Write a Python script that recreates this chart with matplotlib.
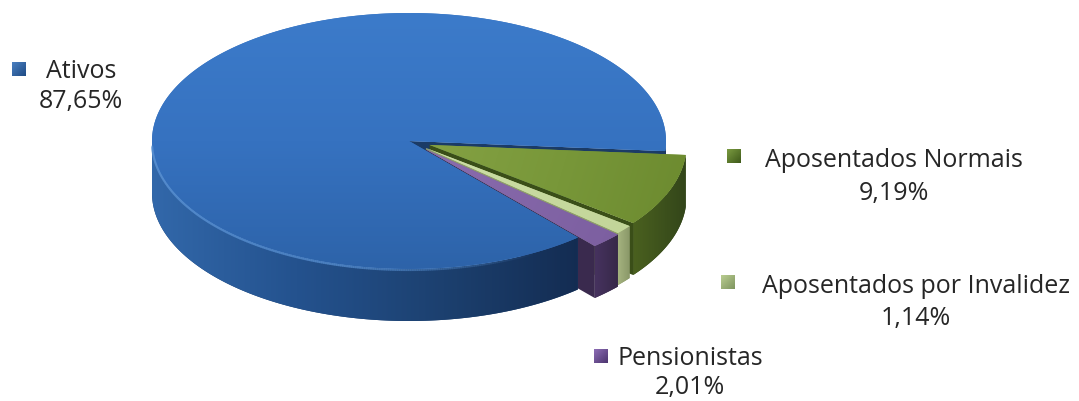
import numpy as np
import matplotlib
matplotlib.use("Agg")
import matplotlib.pyplot as plt
from matplotlib.patches import Polygon
from matplotlib.collections import LineCollection
from matplotlib.colors import LinearSegmentedColormap, to_rgba

# ---- data -------------------------------------------------------------
categories = ["Ativos", "Aposentados Normais", "Aposentados por Invalidez", "Pensionistas"]
shares = [87.65, 9.19, 1.14, 2.01]
value_labels = ["87,65%", "9,19%", "1,14%", "2,01%"]

# slice order going clockwise from the start angle
pie_order = [1, 2, 3, 0]
explode = [0, 22, 22, 24]

top_colors = [["#3c7bca", "#3672c0", "#2d63a9"],
              ["#84a143", "#789739", "#6c8a2f"],
              ["#cddfa6", "#c2d599"],
              ["#8a6cae", "#7c5fa0"]]
wall_colors = [["#3268aa", "#24528e", "#1c406f", "#132b50"],
               ["#4a601f", "#33461a"],
               ["#a4b27f", "#8a9868"],
               ["#46325e", "#362848"]]
edge_face_colors = ["#1b3b66", "#3a4e18", "#8e9c6c", "#3a2a4e"]
marker_colors = [["#4a7fc0", "#1f4c86"], ["#7a9a40", "#3f5a1a"],
                 ["#b9cc90", "#7f9660"], ["#8c6cb4", "#4d3670"]]

label_pos = [(81, 78, 108), (894, 167, 200), (916, 293, 325), (690, 365, 394)]
marker_pos = [(19, 70), (734, 157), (728, 283), (601, 357)]

# ---- pie geometry -----------------------------------------------------
cx, cy, rx, ry, depth = 409.0, 142.0, 257.0, 128.0, 52.0
start_deg = 4.5

fig = plt.figure(figsize=(10.79, 4.02), dpi=100)
ax = fig.add_axes([0, 0, 1, 1])
ax.axis("off")


def gradient_fill(xy, colors, p0, p1, zorder, edge=None):
    xy = np.asarray(xy, float)
    poly = Polygon(xy, closed=True, facecolor=colors[len(colors) // 2],
                   edgecolor=edge if edge else "none", lw=0.6, zorder=zorder)
    ax.add_patch(poly)
    clip = Polygon(xy, closed=True, facecolor="none", edgecolor="none")
    ax.add_patch(clip)
    xmin, ymin = xy.min(0) - 1
    xmax, ymax = xy.max(0) + 1
    nx, ny = int(xmax - xmin) + 2, int(ymax - ymin) + 2
    X, Y = np.meshgrid(np.linspace(xmin, xmax, nx), np.linspace(ymin, ymax, ny))
    d = np.array(p1, float) - np.array(p0, float)
    s = ((X - p0[0]) * d[0] + (Y - p0[1]) * d[1]) / (d @ d)
    cmap = LinearSegmentedColormap.from_list("g", colors)
    img = cmap(np.clip(s, 0, 1))
    im = ax.imshow(img, extent=(xmin, xmax, ymax, ymin), origin="upper",
                   aspect="auto", interpolation="bilinear", zorder=zorder + 0.01)
    im.set_clip_path(clip)


def rim(t, off, dz=0.0):
    t = np.atleast_1d(t)
    return np.column_stack([cx + off[0] + rx * np.cos(t),
                            cy + off[1] + ry * np.sin(t) + dz])


total = sum(shares)
walls = []
tops = []
cum = 0.0
for k in pie_order:
    t0 = np.radians(start_deg + cum / total * 360.0)
    cum += shares[k]
    t1 = np.radians(start_deg + cum / total * 360.0)
    m = 0.5 * (t0 + t1)
    off = (explode[k] * np.cos(m), explode[k] * np.sin(m) * ry / rx)
    vtx = np.array([cx + off[0], cy + off[1]])

    # curved outer wall, front half only
    for base in (0.0, 2 * np.pi):
        lo, hi = max(t0, base), min(t1, base + np.pi)
        if hi > lo:
            ts = np.linspace(lo, hi, 120)
            top = rim(ts, off)
            bot = rim(ts, off, depth)
            walls.append((top[:, 1].max(), np.vstack([top, bot[::-1]]), "outer", k))

    # radial cut faces that face the viewer
    for t, visible in ((t0, np.cos(t0) < 0), (t1, np.cos(t1) > 0)):
        if visible:
            r = rim(t, off)[0]
            xy = np.array([vtx, r, r + [0, depth], vtx + [0, depth]])
            walls.append((max(vtx[1], r[1]), xy, "radial", k))

    ts = np.linspace(t0, t1, 400)
    tops.append((k, np.vstack([vtx, rim(ts, off)])))

walls.sort(key=lambda w: w[0])
z = 2.0
for key, xy, kind, k in walls:
    if kind == "outer":
        if k == 0:
            gradient_fill(xy, wall_colors[k], (150, 0), (590, 0), z)
        else:
            gradient_fill(xy, wall_colors[k], (xy[:, 0].min(), 0), (xy[:, 0].max(), 0), z)
    else:
        ax.add_patch(Polygon(xy, closed=True, facecolor=edge_face_colors[k],
                             edgecolor="none", zorder=z))
    z += 0.1

for k, xy in tops:
    if k == 0:
        gradient_fill(xy, top_colors[k], (0, 14), (0, 272), 10)
    else:
        gradient_fill(xy, top_colors[k], (xy[:, 0].min(), xy[:, 1].min()),
                      (xy[:, 0].max(), xy[:, 1].max()), 10)

# soft highlight along the front rim of the large slice, fading out to the right
ts = np.linspace(np.radians(60), np.radians(178), 240)
hl = rim(ts, (0, 0), 1.0)
segs = np.stack([hl[:-1], hl[1:]], axis=1)
fade = np.clip((np.degrees(ts[:-1]) - 60) / 45.0, 0, 1) * 0.5
base_rgba = np.array(to_rgba("#5a92d4"))
seg_colors = np.tile(base_rgba, (len(segs), 1))
seg_colors[:, 3] = fade
ax.add_collection(LineCollection(segs, colors=seg_colors, linewidths=1.6, zorder=11,
                                 capstyle="round"))

# ---- labels -----------------------------------------------------------
txt_kw = dict(family="Open Sans", fontsize=18, color="#262626", ha="center",
              va="baseline", zorder=20)
msize = 14
for k in range(len(categories)):
    x, y1, y2 = label_pos[k]
    ax.text(x, y1, categories[k], **txt_kw)
    ax.text(x, y2, value_labels[k], **txt_kw)
    mx, my = marker_pos[k]
    sq = np.array([[mx - msize / 2, my - msize / 2], [mx + msize / 2, my - msize / 2],
                   [mx + msize / 2, my + msize / 2], [mx - msize / 2, my + msize / 2]])
    gradient_fill(sq, marker_colors[k], sq[0], sq[2], 20)

ax.set_xlim(0, 1079)
ax.set_ylim(402, 0)
fig.savefig("out.png", dpi=100, facecolor="white")
